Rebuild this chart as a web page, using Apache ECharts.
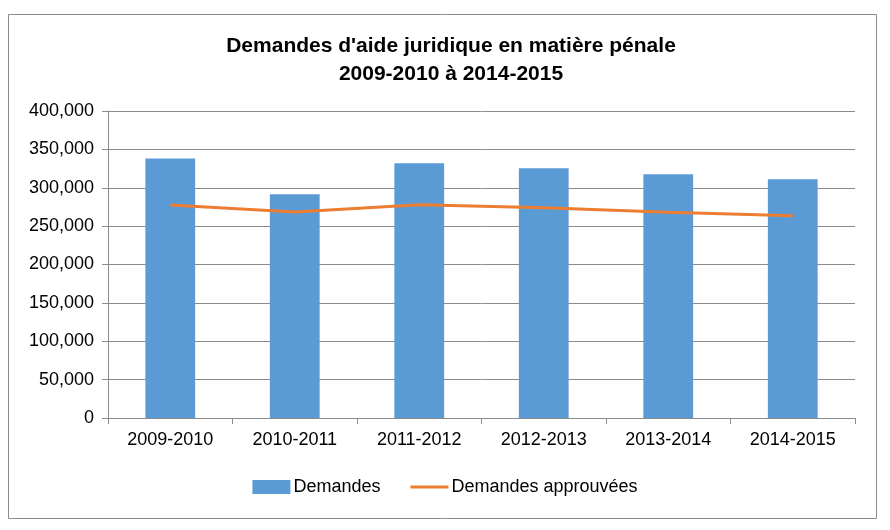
<!DOCTYPE html>
<html><head><meta charset="utf-8">
<script src="https://cdn.jsdelivr.net/npm/echarts@6/dist/echarts.min.js"></script>
<style>html,body{margin:0;padding:0;background:#fff}#c{width:890px;height:530px}</style>
</head><body><div id="c"></div>
<script>
const categories = ['2009-2010','2010-2011','2011-2012','2012-2013','2013-2014','2014-2015'];
const demandes = [338000, 291500, 332000, 325500, 317500, 311000];
const approuvees = [277500, 268500, 278000, 274000, 268000, 263500];
const yTicks = [0, 50000, 100000, 150000, 200000, 250000, 300000, 350000, 400000];

const FONT = "'Liberation Sans Narrow','Liberation Sans',sans-serif";
const chart = echarts.init(document.getElementById('c'));
chart.setOption({
  animation: false,
  textStyle: {fontFamily: FONT},
  title: {
    text: "Demandes d'aide juridique en matière pénale\n2009-2010 à 2014-2015",
    left: 446, top: 27, textAlign: 'center',
    textStyle: {fontFamily: FONT, fontSize: 21, fontWeight: 'bold', color: '#000', lineHeight: 28}
  },
  graphic: [{type: 'rect', shape: {x: 8.5, y: 14.5, width: 868, height: 504},
    style: {fill: 'none', stroke: '#8c8c8c', lineWidth: 1}, silent: true}],
  grid: {left: 108, right: 35, top: 111, bottom: 112},
  legend: {
    bottom: 29, left: 'center', itemWidth: 38, itemHeight: 14, itemGap: 30,
    textStyle: {fontFamily: FONT, fontSize: 18, color: '#000', padding: [0,0,0,-2]},
    data: [
      {name: 'Demandes', icon: 'rect'},
      {name: 'Demandes approuvées', icon: 'path://M0,0L0,0M0,5.5L38,5.5L38,8.5L0,8.5ZM38,14L38,14'}
    ]
  },
  xAxis: {
    type: 'category', data: categories, boundaryGap: true,
    axisLine: {lineStyle: {color: '#8c8c8c', width: 1}},
    axisTick: {show: true, length: 6, lineStyle: {color: '#8c8c8c'}, alignWithLabel: false},
    axisLabel: {fontFamily: FONT, fontSize: 18, color: '#000', margin: 13}
  },
  yAxis: {
    type: 'value', min: yTicks[0], max: yTicks[yTicks.length-1], interval: 50000,
    axisLine: {show: true, lineStyle: {color: '#8c8c8c'}},
    axisTick: {show: true, length: 6, lineStyle: {color: '#8c8c8c'}},
    splitLine: {lineStyle: {color: '#8c8c8c', width: 1}},
    axisLabel: {fontFamily: FONT, fontSize: 18, color: '#000', margin: 14,
      formatter: v => v.toLocaleString('en-US')}
  },
  series: [
    {name: 'Demandes', type: 'bar', data: demandes, barWidth: '40%',
     itemStyle: {color: '#5B9BD5'}},
    {name: 'Demandes approuvées', type: 'line', data: approuvees, symbol: 'none',
     lineStyle: {color: '#ED7D31', width: 3}, itemStyle: {color: '#ED7D31'}}
  ]
});
</script></body></html>
